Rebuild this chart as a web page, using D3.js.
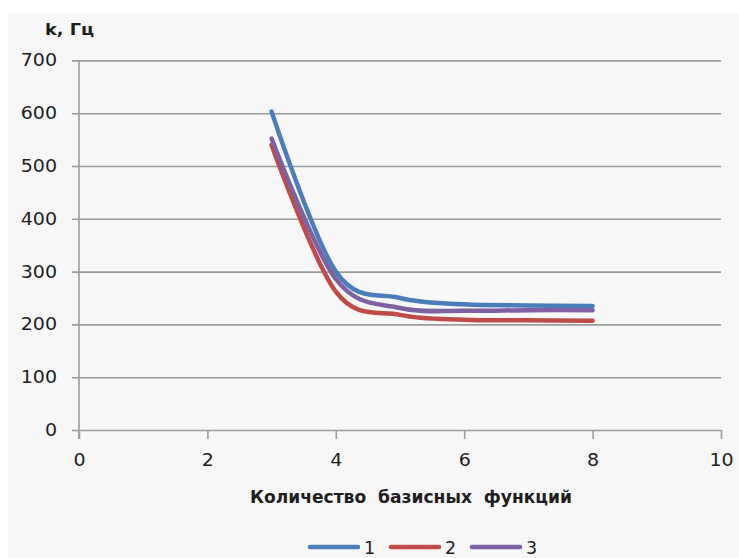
<!DOCTYPE html>
<html><head><meta charset="utf-8">
<script src="https://cdn.jsdelivr.net/npm/d3@7"></script>
<style>
body{margin:0;background:#fff;}
text{font-family:"DejaVu Sans",sans-serif;fill:#1e1e1e;}
</style>
</head><body>
<svg id="c" width="739" height="558"></svg>
<script>
const xValues = [3, 4, 5, 6, 7, 8];
const series1 = [603, 300, 250, 238, 236, 235];
const series2 = [540, 262, 218, 209, 208, 207];
const series3 = [552, 286, 231, 226, 227, 227];
const seriesNames = ["1", "2", "3"];
const xTicks = [0, 2, 4, 6, 8, 10];
const yTicks = [0, 100, 200, 300, 400, 500, 600, 700];
const yTitle = "k, Гц";
const xTitle = "Количество  базисных  функций";

const colors = ["#4a7ebb", "#be4b48", "#7e61a1"];
const allSeries = [series1, series2, series3];

const svg = d3.select("#c");
const L = 79, R = 721, T = 60.4, B = 430;
const x = d3.scaleLinear().domain([0, 10]).range([L, R]);
const y = d3.scaleLinear().domain([0, 700]).range([B, T]);

function stretch(sel, k) {
  sel.each(function () {
    const w = this.getComputedTextLength();
    d3.select(this).attr("textLength", w * k).attr("lengthAdjust", "spacingAndGlyphs");
  });
}

// panel background
svg.append("rect").attr("x", 8).attr("y", 13).attr("width", 731).attr("height", 545).attr("fill", "#f7f7f7");

// gridlines
const grid = svg.append("g").attr("transform", `translate(${L - 7},0)`)
  .call(d3.axisLeft(y).tickValues(yTicks).tickSize(-(R - L + 7)).tickFormat(""));
grid.select(".domain").remove();
grid.selectAll(".tick line").attr("stroke", "#9c9c9c").attr("stroke-width", 1.6);

// y axis labels
const ya = svg.append("g").attr("transform", `translate(${L},0)`)
  .call(d3.axisLeft(y).tickValues(yTicks).tickSize(7).tickPadding(15));
ya.select(".domain").remove();
ya.selectAll(".tick line").remove();
ya.selectAll("text").attr("font-size", 17).attr("font-family", "DejaVu Sans").attr("fill", "#1e1e1e").call(stretch, 1.12);

// x axis
const xa = svg.append("g").attr("transform", `translate(0,${B})`)
  .call(d3.axisBottom(x).tickValues(xTicks).tickSize(9).tickPadding(15));
xa.select(".domain").remove();
xa.selectAll(".tick line").attr("stroke", "#9c9c9c").attr("stroke-width", 1.6);
xa.selectAll("text").attr("font-size", 17).attr("font-family", "DejaVu Sans").attr("fill", "#1e1e1e").call(stretch, 1.12);

// y axis line
svg.append("line").attr("x1", L).attr("x2", L).attr("y1", y(700)).attr("y2", B + 9)
  .attr("stroke", "#9c9c9c").attr("stroke-width", 1.6);

// lines
const line = d3.line().x((d, i) => x(xValues[i])).y(d => y(d)).curve(d3.curveCardinal.tension(0));
allSeries.forEach((s, i) => {
  svg.append("path").datum(s).attr("d", line).attr("fill", "none")
    .attr("stroke", colors[i]).attr("stroke-width", 4.5).attr("stroke-linecap", "round").attr("stroke-linejoin", "round");
});

// titles
svg.append("text").attr("x", 45).attr("y", 35).attr("font-size", 16.5).attr("font-weight", "bold")
  .attr("textLength", 49).attr("lengthAdjust", "spacingAndGlyphs").text(yTitle);
svg.append("text").attr("x", 250).attr("y", 503).attr("font-size", 17).attr("font-weight", "bold")
  .attr("font-family", "Open Sans").style("white-space", "pre")
  .attr("textLength", 322).attr("lengthAdjust", "spacingAndGlyphs").text(xTitle);

// legend
const lg = svg.append("g");
seriesNames.forEach((n, i) => {
  const x0 = 310 + i * 81;
  lg.append("line").attr("x1", x0).attr("x2", x0 + 48).attr("y1", 547).attr("y2", 547)
    .attr("stroke", colors[i]).attr("stroke-width", 4.5).attr("stroke-linecap", "round");
  lg.append("text").attr("x", x0 + 54).attr("y", 554).attr("font-size", 17.5).text(n);
});
</script>
</body></html>
